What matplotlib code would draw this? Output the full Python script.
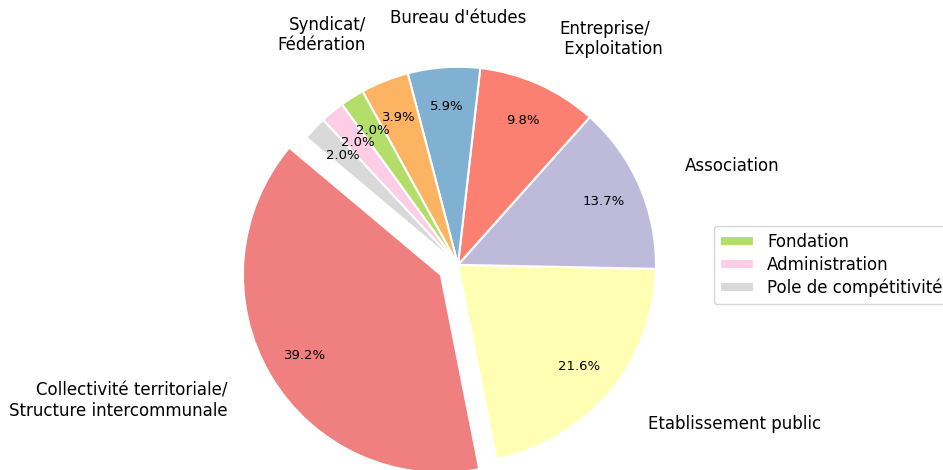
import matplotlib
matplotlib.use("Agg")
import matplotlib.pyplot as plt

labels = ["Collectivité territoriale/\nStructure intercommunale",
          "Etablissement public",
          "Association",
          "Entreprise/\n Exploitation",
          "Bureau d'études",
          "Syndicat/\nFédération",
          "Fondation",
          "Administration",
          "Pole de compétitivité"]
counts = [20, 11, 7, 5, 3, 2, 1, 1, 1]
colors = ["#f08080", "#ffffb3", "#bebada", "#fb8072", "#80b1d3",
          "#fdb462", "#b3de69", "#fccde5", "#d9d9d9"]
explode = [0.1, 0, 0, 0, 0, 0, 0, 0, 0]
# petites parts : seulement dans la légende
legend_only = ["Fondation", "Administration", "Pole de compétitivité"]

fig = plt.figure(figsize=(9.43, 4.70), dpi=100)
ax = fig.add_axes([0.2232, -0.0900, 0.5249, 1.0532])

pie_labels = ["" if l in legend_only else l for l in labels]
wedges, texts, autotexts = ax.pie(counts, labels=pie_labels, colors=colors,
                                  explode=explode, startangle=140,
                                  autopct="%1.1f%%", pctdistance=0.8,
                                  labeldistance=1.25,
                                  wedgeprops={"edgecolor": "white", "linewidth": 1.5},
                                  textprops={"fontsize": 12})
for t in autotexts:
    t.set_fontsize(9.5)

# "Bureau d'études" centré au-dessus du camembert
texts[4].set_ha("center")
texts[4].set_x(0)

idx = [labels.index(l) for l in legend_only]
ax.legend([wedges[i] for i in idx], legend_only, loc="center left",
          bbox_to_anchor=(1, 0.5), fontsize=12, labelspacing=0.3,
          handleheight=0.55)
ax.axis("equal")
ax.set_xlim(-1.25, 1.25)
ax.set_ylim(-1.25, 1.25)

plt.savefig("out.png", dpi=100)
